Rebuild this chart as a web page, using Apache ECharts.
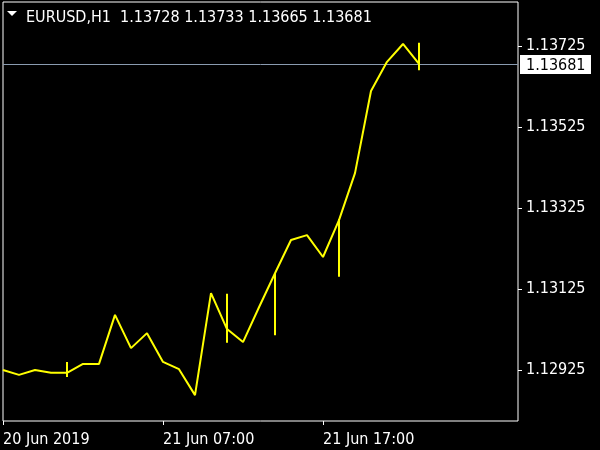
<!DOCTYPE html>
<html>
<head>
<meta charset="utf-8">
<script src="https://cdn.jsdelivr.net/npm/echarts@6/dist/echarts.min.js"></script>
<style>html,body{margin:0;padding:0;background:#000;}#c{width:600px;height:450px;}</style>
</head>
<body>
<div id="c"></div>
<script>
const symbolName = 'EURUSD,H1';
const ohlc = ['1.13728', '1.13733', '1.13665', '1.13681'];
const barTimes = ['20 Jun 21:00','20 Jun 22:00','20 Jun 23:00','21 Jun 00:00','21 Jun 01:00','21 Jun 02:00','21 Jun 03:00','21 Jun 04:00','21 Jun 05:00','21 Jun 06:00','21 Jun 07:00','21 Jun 08:00','21 Jun 09:00','21 Jun 10:00','21 Jun 11:00','21 Jun 12:00','21 Jun 13:00','21 Jun 14:00','21 Jun 15:00','21 Jun 16:00','21 Jun 17:00','21 Jun 18:00','21 Jun 19:00','21 Jun 20:00','21 Jun 21:00','21 Jun 22:00','21 Jun 23:00'];
const closes = [1.12925,1.12913,1.12925,1.12918,1.12918,1.12940,1.12940,1.13061,1.12979,1.13016,1.12945,1.12927,1.12863,1.13115,1.13026,1.12994,1.13080,1.13164,1.13246,1.13258,1.13204,1.13295,1.13411,1.13614,1.13686,1.13730,1.13681];
const signalIdx = [4, 14, 17, 21, 26];
const signalHigh = [1.12945, 1.13113, 1.13164, 1.13298, 1.13733];
const signalLow = [1.12908, 1.12992, 1.13011, 1.13155, 1.13665];
const xTickIdx = [0, 10, 20];
const xTickLabels = ['20 Jun 2019', '21 Jun 07:00', '21 Jun 17:00'];
const yTicks = [1.12925, 1.13125, 1.13325, 1.13525, 1.13725];
const lastPrice = 1.13681;

const FONT = "'DejaVu Sans Condensed', 'Liberation Sans', sans-serif";
const X_MAX = 32.1875;
const chart = echarts.init(document.getElementById('c'), null, {renderer: 'canvas'});
const lineData = closes.map((v, i) => [i, v]);
const sigData = signalIdx.map((idx, k) => [idx, signalHigh[k], signalLow[k]]);

chart.setOption({
  backgroundColor: '#000000',
  animation: false,
  title: {
    text: symbolName + '  ' + ohlc.join(' '),
    left: 21, top: 5,
    textStyle: {color: '#ffffff', fontFamily: FONT, fontSize: 16, fontWeight: 'normal'}
  },
  graphic: [{
    type: 'polygon', shape: {points: [[7, 11], [17, 11], [12, 16]]},
    style: {fill: '#ffffff'}
  }],
  grid: {left: 3, top: 2, right: 82, bottom: 29, show: true, borderColor: '#ffffff', borderWidth: 1, backgroundColor: '#000000'},
  xAxis: {
    type: 'value', min: 0, max: X_MAX,
    splitLine: {show: false},
    axisLine: {show: false, onZero: false},
    axisTick: {show: true, length: 4, customValues: xTickIdx, lineStyle: {color: '#ffffff'}},
    axisLabel: {
      customValues: xTickIdx, align: 'left', margin: 11,
      color: '#ffffff', fontFamily: FONT, fontSize: 16,
      formatter: v => xTickLabels[xTickIdx.indexOf(Math.round(v))] || ''
    }
  },
  yAxis: {
    type: 'value', position: 'right', min: 1.1279907, max: 1.1383364, scale: true,
    splitLine: {show: false},
    axisLine: {show: false, onZero: false},
    axisTick: {show: true, length: 4, customValues: yTicks, lineStyle: {color: '#ffffff'}},
    axisLabel: {
      customValues: yTicks, margin: 8, padding: [3, 0, 0, 0],
      color: '#ffffff', fontFamily: FONT, fontSize: 16,
      formatter: v => v.toFixed(5)
    }
  },
  series: [{
    type: 'custom', data: [[lastPrice]], z: 1, clip: false,
    renderItem: (params, api) => {
      const a = api.coord([0, api.value(0)]);
      const b = api.coord([X_MAX, api.value(0)]);
      const y = Math.round(a[1]) + 0.5;
      return {type: 'group', children: [
        {type: 'line', shape: {x1: a[0], y1: y, x2: b[0], y2: y}, style: {stroke: '#8a9bb0', lineWidth: 1}},
        {type: 'rect', shape: {x: b[0] + 2, y: y - 9.5, width: 71, height: 19}, style: {fill: '#ffffff'}},
        {type: 'text', x: b[0] + 8, y: y + 1, style: {text: api.value(0).toFixed(5), fill: '#000000', font: '16px ' + FONT, verticalAlign: 'middle', align: 'left'}}
      ]};
    }
  }, {
    type: 'line', data: lineData, symbol: 'none', z: 3,
    lineStyle: {color: '#ffff00', width: 2}
  }, {
    type: 'custom', data: sigData, z: 3,
    renderItem: (params, api) => {
      const p1 = api.coord([api.value(0), api.value(1)]);
      const p2 = api.coord([api.value(0), api.value(2)]);
      return {type: 'line', shape: {x1: p1[0], y1: p1[1], x2: p2[0], y2: p2[1]},
        style: {stroke: '#ffff00', lineWidth: 2}};
    }
  }]
});
</script>
</body>
</html>
